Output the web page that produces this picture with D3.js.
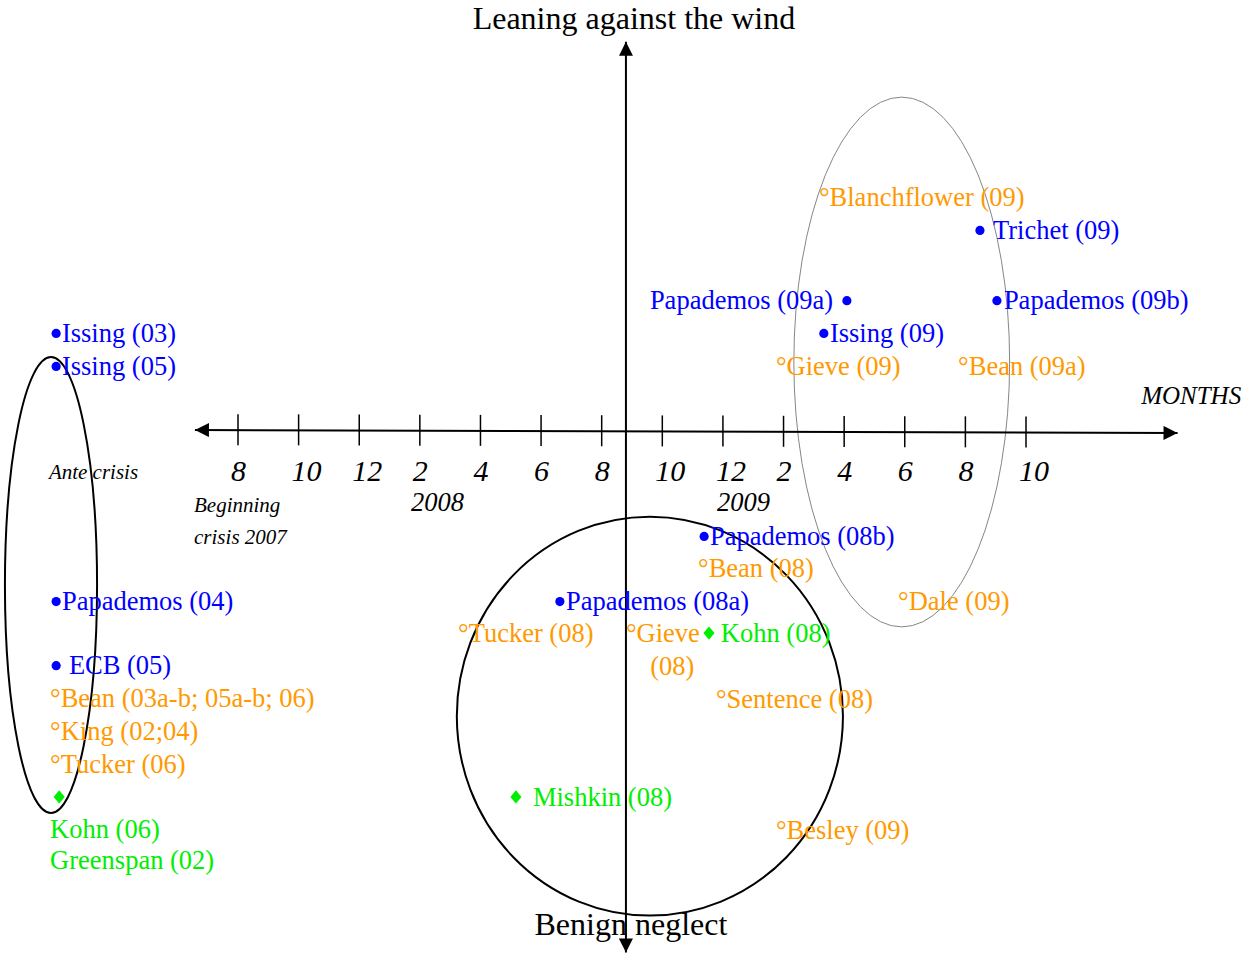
<!DOCTYPE html>
<html><head><meta charset="utf-8">
<script src="https://cdn.jsdelivr.net/npm/d3@7"></script>
<style>
html,body{margin:0;padding:0;background:#fff;}
svg{display:block;}
text{font-family:"Liberation Serif","Times New Roman",serif;}
</style></head>
<body><svg id="chart" width="1244" height="953"></svg>
<script>
// ---- data (x: months since Aug 2007, y: stance score; 0 = neutral) ----
const tickMonths = [0,2,4,6,8,10,12,14,16,18,20,22,24,26];
const tickLabels = ["8","10","12","2","4","6","8","10","12","2","4","6","8","10"];

// ECB (blue bullets)
const ecbLabels = ["Issing (03)","Issing (05)","Papademos (04)","ECB (05)","Trichet (09)","Papademos (09a)","Papademos (09b)","Issing (09)","Papademos (08b)","Papademos (08a)"];
const ecbMarkX  = [-6.0,-6.0,-6.0,-6.0,24.48,20.09,25.04,19.33,15.38,10.62];
const ecbLabelX = [-5.81,-5.81,-5.81,-5.58,24.91,13.59,25.27,19.53,15.57,10.82];
const ecbY      = [3.0,1.99,-5.2,-7.16,6.15,4.0,4.0,3.0,-3.21,-5.2];

// Bank of England (orange)
const boeLabels = ["°Blanchflower (09)","°Gieve (09)","°Bean (09a)","°Bean (08)","°Dale (09)","°Tucker (08)","°Gieve","(08)","°Sentence (08)","°Besley (09)","°Bean (03a-b; 05a-b; 06)","°King (02;04)","°Tucker (06)"];
const boeX = [19.17,17.75,23.76,15.18,21.78,7.26,12.8,13.6,15.77,17.75,-6.2,-6.2,-6.2];
const boeY = [7.16,1.99,1.99,-4.19,-5.2,-6.18,-6.18,-7.19,-8.2,-12.2,-8.17,-9.17,-10.18];

// Fed (green diamonds)
const fedLabels = ["Kohn (08)","Mishkin (08)","Kohn (06)","Greenspan (02)"];
const fedLabelX = [15.93,9.73,-6.2,-6.2];
const fedLabelY = [-6.18,-11.19,-12.17,-13.12];
const fedMarkX = [15.54,9.17,-5.9,null];
const fedMarkY = [-6.18,-11.19,-11.19,null];

// clusters: centre and radii in data units
const clusterNames = ["ante","crisis2008","crisis2009"];
const clusterCx = [-6.17,13.59,21.9];
const clusterCy = [-4.71,-8.72,2.11];
const clusterRx = [1.52,6.37,3.56];
const clusterRy = [6.97,6.1,8.1];

const notes = ["Ante crisis","Beginning","crisis 2007"];
const noteX = [-6.24,-1.45,-1.45];
const noteY = [-1.25,-2.25,-3.22];
const yearLabels = ["2008","2009"];
const yearX = [6.58,16.68];
const yearY = [-2.17,-2.17];

// ---- scales ----
const svg = d3.select("#chart");
const x = d3.scaleLinear().domain([0,26]).range([238,1026]);
const y = d3.scaleLinear().domain([0,1]).range([431,398.3]);

const BLUE="#0000ff", ORANGE="#ff9900", GREEN="#00ee00";

const defs = svg.append("defs");
defs.append("marker").attr("id","arr").attr("viewBox","0 0 10 10").attr("refX",10).attr("refY",5)
  .attr("markerWidth",8).attr("markerHeight",7).attr("markerUnits","strokeWidth").attr("orient","auto-start-reverse")
  .append("path").attr("d","M0,0L10,5L0,10Z").attr("fill","#000");

// ---- ellipses ----
const ell = svg.append("g");
clusterNames.forEach((n,i)=>{
  ell.append("ellipse")
    .attr("cx",x(clusterCx[i])).attr("cy",y(clusterCy[i]))
    .attr("rx",x(clusterCx[i]+clusterRx[i])-x(clusterCx[i]))
    .attr("ry",y(clusterCy[i]-clusterRy[i])-y(clusterCy[i]))
    .attr("fill","none")
    .attr("stroke", i===2 ? "#777" : "#000")
    .attr("stroke-width", i===2 ? 0.9 : 2);
});

// ---- axes ----
const xAxisLeft = -1.42, xAxisRight = 31.0, yAxisX = 12.8, yTop = 11.9, yBottom = -15.95;
svg.append("line").attr("x1",x(xAxisLeft)).attr("y1",y(0.03)).attr("x2",x(xAxisRight)).attr("y2",y(-0.06))
  .attr("stroke","#000").attr("stroke-width",2).attr("marker-start","url(#arr)").attr("marker-end","url(#arr)");
svg.append("line").attr("x1",x(yAxisX)).attr("y1",y(yTop)).attr("x2",x(yAxisX)).attr("y2",y(yBottom))
  .attr("stroke","#000").attr("stroke-width",2).attr("marker-start","url(#arr)").attr("marker-end","url(#arr)");

const tilt = m => 0.03 + (m - xAxisLeft)/(xAxisRight - xAxisLeft)*(-0.09);
const tk = svg.append("g");
tickMonths.forEach((m,i)=>{
  const yc = y(tilt(m));
  tk.append("line").attr("x1",x(m)).attr("x2",x(m)).attr("y1",yc-16).attr("y2",yc+15)
    .attr("stroke","#000").attr("stroke-width",1.5);
  tk.append("text").attr("x",x(m)-7).attr("y",y(0)+50).attr("font-size",30).attr("font-style","italic")
    .text(tickLabels[i]);
});

// ---- axis titles ----
svg.append("text").attr("x",x(yAxisX)+8).attr("y",y(11.9)-13).attr("text-anchor","middle").attr("font-size",32)
  .text("Leaning against the wind");
svg.append("text").attr("x",x(yAxisX)+5).attr("y",y(-15.42)).attr("text-anchor","middle").attr("font-size",32)
  .text("Benign neglect");
svg.append("text").attr("x",x(29.8)).attr("y",y(0.82)).attr("font-size",25).attr("font-style","italic")
  .text("MONTHS");

// notes
notes.forEach((t,i)=>{
  svg.append("text").attr("x",x(noteX[i])).attr("y",y(noteY[i])).attr("dy","0.35em")
    .attr("font-size",21).attr("font-style","italic").text(t);
});
yearLabels.forEach((t,i)=>{
  svg.append("text").attr("x",x(yearX[i])).attr("y",y(yearY[i])).attr("dy","0.35em").attr("text-anchor","middle")
    .attr("font-size",26.5).attr("font-style","italic").text(t);
});

// ---- points ----
const pt = svg.append("g").attr("font-size",26.5);
ecbLabels.forEach((t,i)=>{
  pt.append("circle").attr("cx",x(ecbMarkX[i])).attr("cy",y(ecbY[i])+0.5).attr("r",4.6).attr("fill",BLUE);
  pt.append("text").attr("x",x(ecbLabelX[i])).attr("y",y(ecbY[i])).attr("dy","0.35em").attr("fill",BLUE).text(t);
});
boeLabels.forEach((t,i)=>{
  pt.append("text").attr("x",x(boeX[i])).attr("y",y(boeY[i])).attr("dy","0.35em").attr("fill",ORANGE).text(t);
});
const diamond = d3.symbol().type(d3.symbolSquare).size(62);
fedLabels.forEach((t,i)=>{
  pt.append("text").attr("x",x(fedLabelX[i])).attr("y",y(fedLabelY[i])).attr("dy","0.35em").attr("fill",GREEN).text(t);
  if (fedMarkX[i] !== null) {
    pt.append("path").attr("d",diamond).attr("fill",GREEN)
      .attr("transform",`translate(${x(fedMarkX[i])},${y(fedMarkY[i])}) scale(1,1.2) rotate(45)`);
  }
});
</script></body></html>
